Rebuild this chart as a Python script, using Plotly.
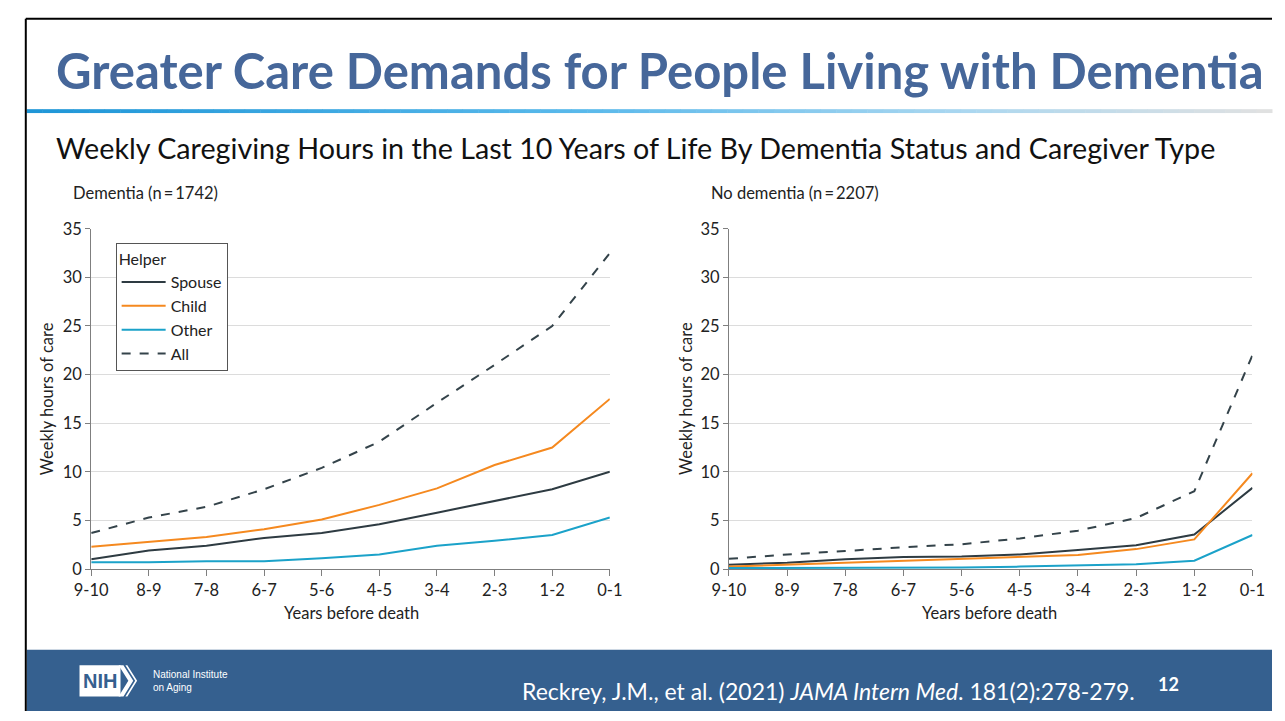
import plotly.graph_objects as go

W, H = 1285, 721

# ---------------- data ----------------
years = ["9-10", "8-9", "7-8", "6-7", "5-6", "4-5", "3-4", "2-3", "1-2", "0-1"]

dem_spouse = [1.0, 1.9, 2.4, 3.2, 3.7, 4.6, 5.8, 7.0, 8.2, 10.0]
dem_child = [2.3, 2.8, 3.3, 4.1, 5.1, 6.6, 8.3, 10.7, 12.5, 17.5]
dem_other = [0.7, 0.7, 0.8, 0.8, 1.1, 1.5, 2.4, 2.9, 3.5, 5.3]
dem_all = [3.7, 5.3, 6.4, 8.2, 10.4, 13.1, 17.1, 21.0, 25.0, 32.5]

nodem_spouse = [0.45, 0.65, 1.0, 1.25, 1.3, 1.5, 1.95, 2.45, 3.55, 8.35]
nodem_child = [0.25, 0.45, 0.65, 0.85, 1.0, 1.25, 1.45, 2.05, 3.05, 9.85]
nodem_other = [0.1, 0.1, 0.1, 0.1, 0.15, 0.25, 0.35, 0.5, 0.85, 3.5]
nodem_all = [1.05, 1.5, 1.85, 2.25, 2.55, 3.15, 3.95, 5.25, 8.0, 22.0]

y_ticks = [0, 5, 10, 15, 20, 25, 30, 35]

series_names = ["Spouse", "Child", "Other", "All"]
colors = {"Spouse": "#2E3B42", "Child": "#F5891F", "Other": "#1BA2C9", "All": "#34434A"}
dashes = {"Spouse": "solid", "Child": "solid", "Other": "solid", "All": "dash"}

title_text = "Greater Care Demands for People Living with Dementia"
subtitle_text = "Weekly Caregiving Hours in the Last 10 Years of Life By Dementia Status and Caregiver Type"
panel_left = "Dementia (n\u2009=\u20091742)"
panel_right = "No dementia (n\u2009=\u20092207)"
y_title = "Weekly hours of care"
x_title = "Years before death"
citation = "Reckrey, J.M., et al. (2021) <i>JAMA Intern Med</i>. 181(2):278-279."
page_no = "<b>12</b>"

# ---------------- helpers ----------------
def px(x):
    return x / W


def py(y):
    return 1 - y / H


chart_font = "Lato"
slide_font = "Lato"
fs = 16.5

fig = go.Figure()

left_data = dict(zip(series_names, [dem_spouse, dem_child, dem_other, dem_all]))
right_data = dict(zip(series_names, [nodem_spouse, nodem_child, nodem_other, nodem_all]))

for name in series_names:
    fig.add_trace(go.Scatter(
        x=years, y=left_data[name], mode="lines", name=name,
        line=dict(color=colors[name], width=2, dash=dashes[name]),
        legendgroup=name, showlegend=True, xaxis="x", yaxis="y",
        hoverinfo="skip"))
for name in series_names:
    fig.add_trace(go.Scatter(
        x=years, y=right_data[name], mode="lines", name=name,
        line=dict(color=colors[name], width=2, dash=dashes[name]),
        legendgroup=name, showlegend=False, xaxis="x2", yaxis="y2",
        hoverinfo="skip"))

axis_line = "#7F7F7F"
grid = "#DCDCDC"
tick_font = dict(family=chart_font, size=fs, color="#222222")

xcommon = dict(type="category", categoryorder="array", categoryarray=years,
               range=[0, 9], showline=True, linecolor=axis_line, linewidth=1,
               ticks="outside", ticklen=6, tickcolor=axis_line, showgrid=False,
               zeroline=False, tickfont=tick_font, fixedrange=True)
ycommon = dict(range=[0, 35], tickvals=y_ticks, showline=True, linecolor=axis_line,
               linewidth=1, ticks="outside", ticklen=5, tickcolor=axis_line,
               showgrid=True, gridcolor=grid, gridwidth=1, zeroline=False,
               tickfont=tick_font, fixedrange=True)

fig.update_layout(
    width=W, height=H, autosize=False,
    margin=dict(l=0, r=0, t=0, b=0, pad=0),
    paper_bgcolor="white", plot_bgcolor="white",
    xaxis=dict(domain=[px(76), px(607)], anchor="y", **xcommon),
    yaxis=dict(domain=[py(575), py(225)], anchor="x", **ycommon),
    xaxis2=dict(domain=[px(729), px(1265)], anchor="y2", **xcommon),
    yaxis2=dict(domain=[py(575), py(225)], anchor="x2", **ycommon),
    legend=dict(
        x=px(101), y=py(240), xanchor="left", yanchor="top",
        bordercolor="#555555", borderwidth=1, bgcolor="white",
        font=dict(family=chart_font, size=16, color="#222222"),
        title=dict(text="Helper", font=dict(family=chart_font, size=16, color="#222222")),
        tracegroupgap=0, itemwidth=44,
    ),
    showlegend=True,
)

shapes = []
# slide border (top & left)
shapes.append(dict(type="line", xref="paper", yref="paper", x0=px(9), x1=1, y0=py(9), y1=py(9),
                   line=dict(color="black", width=2)))
shapes.append(dict(type="line", xref="paper", yref="paper", x0=px(9), x1=px(9), y0=py(9), y1=0,
                   line=dict(color="black", width=2)))

# gradient rule under title
def lerp(a, b, t):
    return tuple(int(round(a[i] + (b[i] - a[i]) * t)) for i in range(3))

stops = [(0.0, (30, 150, 215)), (0.45, (90, 185, 235)), (0.75, (170, 215, 240)), (1.0, (225, 225, 225))]
n = 80
x_start, x_end = 10, 1285
for i in range(n):
    t = (i + 0.5) / n
    for j in range(len(stops) - 1):
        if stops[j][0] <= t <= stops[j + 1][0]:
            tt = (t - stops[j][0]) / (stops[j + 1][0] - stops[j][0])
            c = lerp(stops[j][1], stops[j + 1][1], tt)
            break
    xa = x_start + (x_end - x_start) * i / n
    xb = x_start + (x_end - x_start) * (i + 1) / n + 0.5
    shapes.append(dict(type="rect", xref="paper", yref="paper", x0=px(xa), x1=px(xb),
                       y0=py(106), y1=py(102), line=dict(width=0),
                       fillcolor="rgb(%d,%d,%d)" % c, layer="below"))

# footer band
footer_color = "#35608F"
shapes.append(dict(type="rect", xref="paper", yref="paper", x0=px(10), x1=1, y0=0, y1=py(658),
                   line=dict(width=0), fillcolor=footer_color, layer="below"))

# NIH logo box + chevrons
shapes.append(dict(type="rect", xref="paper", yref="paper", x0=px(64), x1=px(106), y0=py(706), y1=py(674),
                   line=dict(width=0), fillcolor="white"))
shapes.append(dict(type="path", xref="paper", yref="paper",
                   path="M {a},{b} L {c},{d} L {a},{e} L {f},{e} L {g},{d} L {f},{b} Z".format(
                       a=px(104), b=py(674), c=px(114), d=py(690), e=py(706), f=px(109), g=px(119)),
                   line=dict(width=0), fillcolor="white"))
shapes.append(dict(type="path", xref="paper", yref="paper",
                   path="M {a},{b} L {c},{d} L {a},{e} L {f},{e} L {g},{d} L {f},{b} Z".format(
                       a=px(111), b=py(674), c=px(121), d=py(690), e=py(706), f=px(113), g=px(123)),
                   line=dict(width=0), fillcolor="white"))

fig.update_layout(shapes=shapes)

ann = []
ann.append(dict(text="<b>" + title_text + "</b>", x=px(38), y=py(62), xref="paper", yref="paper",
                xanchor="left", yanchor="middle", showarrow=False,
                font=dict(family=slide_font, size=49, color="#46679A")))
ann.append(dict(text=subtitle_text, x=px(38), y=py(142), xref="paper", yref="paper",
                xanchor="left", yanchor="middle", showarrow=False,
                font=dict(family=slide_font, size=28.7, color="#111111")))
ann.append(dict(text=panel_left, x=px(55), y=py(188), xref="paper", yref="paper",
                xanchor="left", yanchor="middle", showarrow=False,
                font=dict(family=chart_font, size=fs, color="#222222")))
ann.append(dict(text=panel_right, x=px(709), y=py(188), xref="paper", yref="paper",
                xanchor="left", yanchor="middle", showarrow=False,
                font=dict(family=chart_font, size=fs, color="#222222")))
for xx in (31, 685):
    ann.append(dict(text=y_title, x=px(xx), y=py(400), xref="paper", yref="paper",
                    xanchor="center", yanchor="middle", showarrow=False, textangle=-90,
                    font=dict(family=chart_font, size=fs, color="#222222")))
for xx in (342, 996):
    ann.append(dict(text=x_title, x=px(xx), y=py(620), xref="paper", yref="paper",
                    xanchor="center", yanchor="middle", showarrow=False,
                    font=dict(family=chart_font, size=fs, color="#222222")))
ann.append(dict(text=citation, x=px(1147), y=py(700), xref="paper", yref="paper",
                xanchor="right", yanchor="middle", showarrow=False,
                font=dict(family=slide_font, size=23, color="white")))
ann.append(dict(text=page_no, x=px(1179), y=py(693), xref="paper", yref="paper",
                xanchor="center", yanchor="middle", showarrow=False,
                font=dict(family=slide_font, size=18, color="white")))
ann.append(dict(text="<b>NIH</b>", x=px(85), y=py(690), xref="paper", yref="paper",
                xanchor="center", yanchor="middle", showarrow=False,
                font=dict(family="Liberation Sans", size=20, color=footer_color)))
ann.append(dict(text="National Institute<br>on Aging", x=px(137), y=py(690), xref="paper", yref="paper",
                xanchor="left", yanchor="middle", showarrow=False, align="left",
                font=dict(family="Liberation Sans", size=10, color="white")))
fig.update_layout(annotations=ann)

css_js = (
    "var s=document.createElement('style');"
    "s.innerHTML='html,body{margin:0!important;padding:0!important;overflow:hidden;}';"
    "document.head.appendChild(s);"
    "var g=document.getElementById('{plot_id}');"
    "g.style.position='absolute';g.style.left='0px';g.style.top='0px';"
)
fig.write_html("out.html", config={"displayModeBar": False}, post_script=css_js)
